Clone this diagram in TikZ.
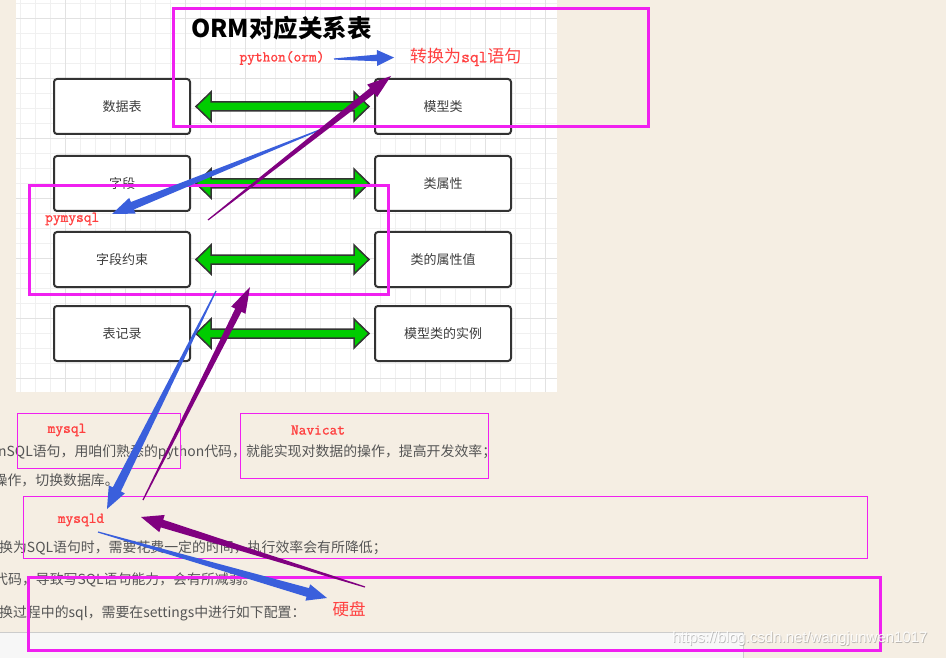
\documentclass[tikz,border=0pt]{standalone}
\usepackage{fontspec}
\setmainfont{Liberation Sans}
\newfontfamily\cjk{Noto Sans CJK SC}
\newfontfamily\rmono{Latin Modern Mono}[FakeBold=1.2]
\usetikzlibrary{calc}
\definecolor{bgc}{RGB}{245,238,227}
\definecolor{gminor}{RGB}{240,240,240}
\definecolor{gmajor}{RGB}{226,226,226}
\definecolor{boxc}{RGB}{51,51,51}
\definecolor{lbl}{RGB}{60,60,60}
\definecolor{grn}{RGB}{0,204,0}
\definecolor{mag}{RGB}{240,32,240}
\definecolor{redt}{RGB}{255,64,64}
\definecolor{bluea}{RGB}{58,95,220}
\definecolor{purp}{RGB}{128,0,128}
\definecolor{gtext}{RGB}{85,85,85}
\newcommand\myTaper[6]{%
  \coordinate (hb) at ($(#2)!#5!(#1)$);
  \fill[#6] ($(#1)!0.6pt!90:(#2)$) -- ($(hb)!#3!90:(#2)$) -- ($(hb)!#4!90:(#2)$) -- (#2)
    -- ($(hb)!#4!-90:(#2)$) -- ($(hb)!#3!-90:(#2)$) -- ($(#1)!0.6pt!-90:(#2)$) -- cycle;}
\newcommand\myGreen[2]{%
  \draw[garr] ($(#1.east)+(5,0)$) -- ++(15,-14.5) -- ++(0,10) -- ($(#2.west)+(-20,-4.5)$)
    -- ++(0,-10) -- ($(#2.west)+(-5,0)$) -- ++(-15,14.5) -- ++(0,-10)
    -- ($(#1.east)+(20,4.5)$) -- ++(0,10) -- cycle;}
\tikzset{
  box/.style={draw=boxc, line width=2pt, rounded corners=3pt, fill=white,
    minimum width=136pt, minimum height=55pt, inner sep=0pt, text=lbl,
    font=\cjk\fontsize{13}{13}\selectfont},
  garr/.style={draw=boxc, line width=1.5pt, fill=grn, line join=miter},
  magbox/.style={draw=mag, line width=1pt},
  magthick/.style={draw=mag, line width=3pt},
  redmono/.style={text=redt, inner sep=0pt, font=\rmono\fontsize{15}{15}\selectfont},
  redcjk/.style={text=redt, inner sep=0pt, font=\cjk\fontsize{17}{17}\selectfont},
  gtxt/.style={text=gtext, inner sep=0pt, anchor=west, font=\cjk\fontsize{13.9}{13.9}\selectfont},
}
\begin{document}
\begin{tikzpicture}[x=1pt,y=-1pt]
\useasboundingbox (0,0) rectangle (946,658);
\fill[bgc] (0,0) rectangle (946,658);
% grid area
\fill[white] (16,0) rectangle (557,392);
\begin{scope}
\clip (16,0) rectangle (557,392);
\foreach \x in {20.7,35.7,...,557} \draw[gminor, line width=1pt] (\x,0) -- (\x,392);
\foreach \y in {3.3,18.3,...,392} \draw[gminor, line width=1pt] (16,\y) -- (557,\y);
\foreach \x in {65.7,125.7,...,557} \draw[gmajor, line width=1pt] (\x,0) -- (\x,392);
\foreach \y in {18.3,78.3,...,392} \draw[gmajor, line width=1pt] (16,\y) -- (557,\y);
\end{scope}
% boxes
\node[box] (l1) at (122,106.5) {数据表};
\node[box] (l2) at (122,183.5) {字段};
\node[box] (l3) at (122,259.5) {字段约束};
\node[box] (l4) at (122,333.5) {表记录};
\node[box] (r1) at (443,106.5) {模型类};
\node[box] (r2) at (443,183.5) {类属性};
\node[box] (r3) at (443,259.5) {类的属性值};
\node[box] (r4) at (443,333.5) {模型类的实例};
\myGreen{l1}{r1}
\myGreen{l2}{r2}
\myGreen{l3}{r3}
\myGreen{l4}{r4}
% title
\node[anchor=west, inner sep=0pt, font=\cjk\bfseries\fontsize{24.5}{24.5}\selectfont] (title) at (191,28) {ORM对应关系表};
% background article text
\node[gtxt] (t1) at (-2,452) {nSQL语句，用咱们熟悉的python代码，就能实现对数据的操作，提高开发效率；};
\node[gtxt] (t2) at (-6.5,480) {操作，切换数据库。};
\node[gtxt] (t3) at (-1,548) {换为SQL语句时，需要花费一定的时间，执行效率会有所降低；};
\node[gtxt] (t4) at (-6,580) {代码，导致写SQL语句能力，会有所减弱。};
\node[gtxt] (t5) at (-1,613) {换过程中的sql，需要在settings中进行如下配置：};
% bottom bar
\fill[fill={rgb,255:red,247;green,247;blue,247}] (0,632) rectangle (743,658);
\draw[draw={rgb,255:red,204;green,204;blue,204}, line width=1pt] (0,632) -- (743,632) -- (743,658);
% magenta boxes
\draw[magthick] (173,9) rectangle (648,127);
\draw[magthick] (29,186) rectangle (388,294);
\draw[magbox] (17.5,413) rectangle (180.5,468.5);
\draw[magbox] (240.5,413) rectangle (488.5,478.5);
\draw[magbox] (23.5,496.5) rectangle (867.5,558);
\draw[magthick] (28.5,577) rectangle (880,650);
% red labels
\node[redmono] (py) at (282,58) {python(orm)};
\node[redcjk, anchor=west] (sql) at (410,57) {转换为{\rmono sql}语句};
\node[redmono, anchor=west] (pym) at (45,219) {pymysql};
\node[redmono] (my) at (67,430) {mysql};
\node[redmono] (nav) at (318,430) {Navicat};
\node[redmono] (myd) at (81,520) {mysqld};
\node[redcjk, font=\cjk\fontsize{16.5}{16.5}\selectfont] (hd) at (349,609) {硬盘};
% annotation arrows
\coordinate (a1t) at (334,59);  \coordinate (a1h) at (394,57.5);
\coordinate (a2t) at (322,129); \coordinate (a2h) at (112,214);
\coordinate (p1t) at (208,220); \coordinate (p1h) at (391,76);
\coordinate (b1t) at (216,291); \coordinate (b1h) at (107,509);
\coordinate (p2t) at (143,500); \coordinate (p2h) at (250,287);
\coordinate (p3t) at (365,587); \coordinate (p3h) at (141,517);
\coordinate (b2t) at (98,532);  \coordinate (b2h) at (327,598);
\myTaper{a1t}{a1h}{3.3pt}{8pt}{17pt}{bluea}
\myTaper{a2t}{a2h}{4pt}{8.5pt}{22pt}{bluea}
\myTaper{p1t}{p1h}{3.5pt}{8pt}{24pt}{purp}
\myTaper{b1t}{b1h}{4.5pt}{9pt}{22pt}{bluea}
\myTaper{p2t}{p2h}{3.5pt}{8pt}{26pt}{purp}
\myTaper{p3t}{p3h}{4pt}{9pt}{22pt}{purp}
\myTaper{b2t}{b2h}{4.5pt}{8.5pt}{20pt}{bluea}
% watermark
\node[inner sep=0pt, text=gray, opacity=0.5, font=\fontsize{15}{15}\selectfont] (wm0) at (800.7,639.7) {https://blog.csdn.net/wangjunwen1017};
\node[inner sep=0pt, text=white, opacity=0.9, font=\fontsize{15}{15}\selectfont] (wm) at (800,639) {https://blog.csdn.net/wangjunwen1017};
\end{tikzpicture}
\end{document}
